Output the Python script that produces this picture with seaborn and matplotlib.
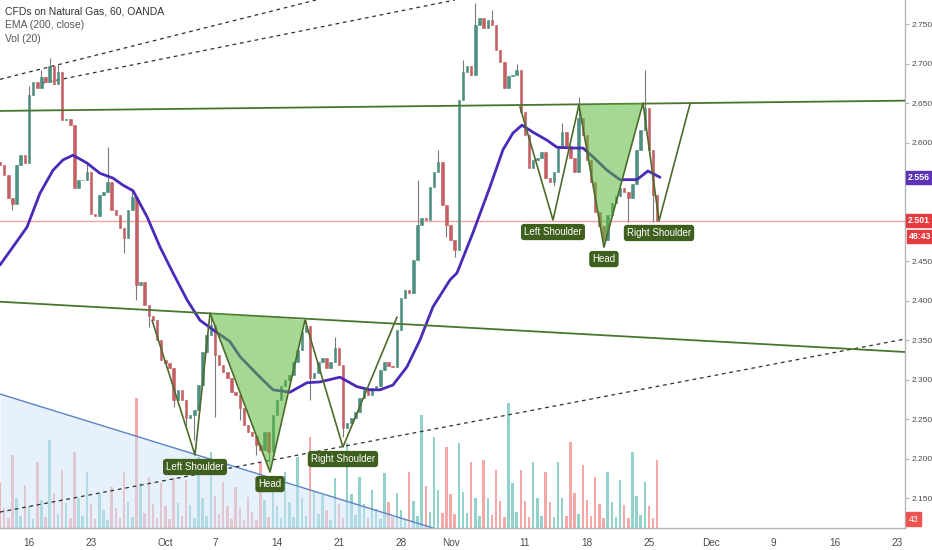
import numpy as np
import matplotlib
matplotlib.use("Agg")
import matplotlib.pyplot as plt
import seaborn as sns

sns.set_theme(style="white")
plt.rcParams['font.family'] = ['Liberation Sans', 'DejaVu Sans']

# ---------------- data ----------------
# time axis = trading-day index (weekends skipped), 0 = Mon 16 Sep, 3 candles per day
t_start = -7 / 3
per_day = 3
first_open = 2.575
close = [
    2.571, 2.559, 2.530, 2.522, 2.571, 2.584, 2.574, 2.660, 2.677, 2.669,
    2.683, 2.677, 2.697, 2.674, 2.689, 2.628, 2.630, 2.622, 2.542, 2.552,
    2.552, 2.563, 2.510, 2.507, 2.534, 2.537, 2.550, 2.515, 2.508, 2.492,
    2.479, 2.515, 2.531, 2.420, 2.423, 2.394, 2.380, 2.375, 2.350, 2.325,
    2.321, 2.315, 2.274, 2.287, 2.274, 2.251, 2.255, 2.262, 2.293, 2.335,
    2.356, 2.369, 2.331, 2.318, 2.309, 2.302, 2.284, 2.280, 2.264, 2.242,
    2.233, 2.228, 2.217, 2.211, 2.234, 2.208, 2.255, 2.274, 2.292, 2.299,
    2.306, 2.322, 2.337, 2.360, 2.368, 2.302, 2.308, 2.322, 2.327, 2.315,
    2.322, 2.340, 2.318, 2.239, 2.245, 2.251, 2.259, 2.277, 2.287, 2.280,
    2.289, 2.292, 2.312, 2.322, 2.317, 2.316, 2.363, 2.403, 2.413, 2.410,
    2.451, 2.496, 2.504, 2.502, 2.544, 2.563, 2.575, 2.521, 2.496, 2.477,
    2.464, 2.654, 2.689, 2.697, 2.686, 2.749, 2.758, 2.745, 2.755, 2.749,
    2.717, 2.702, 2.669, 2.684, 2.686, 2.692, 2.639, 2.610, 2.568, 2.578,
    2.580, 2.588, 2.555, 2.550, 2.563, 2.593, 2.613, 2.596, 2.580, 2.563,
    2.631, 2.610, 2.578, 2.550, 2.512, 2.494, 2.477, 2.508, 2.523, 2.532,
    2.542, 2.538, 2.530, 2.547, 2.591, 2.616, 2.644, 2.591, 2.534, 2.501,
]
wick_high = {7: 2.672, 10: 2.692, 12: 2.707, 14: 2.700, 21: 2.575, 26: 2.594,
             32: 2.540, 51: 2.379, 74: 2.375, 81: 2.354, 101: 2.553, 106: 2.591,
             112: 2.705, 115: 2.777, 119: 2.768, 125: 2.700, 136: 2.625,
             140: 2.657, 156: 2.692}
wick_low = {3: 2.515, 30: 2.460, 33: 2.401, 36: 2.366, 42: 2.265, 45: 2.243,
            47: 2.223, 52: 2.253, 58: 2.249, 62: 2.204, 65: 2.196, 75: 2.274,
            83: 2.227, 108: 2.481, 110: 2.455, 134: 2.545, 146: 2.468,
            152: 2.499, 158: 2.500}
volume = [46, 20, 10, 73, 30, 12, 43, 22, 9, 66, 28, 11, 88, 35, 14, 58, 25, 10,
          76, 30, 12, 56, 24, 9, 35, 18, 8, 41, 20, 10, 56, 26, 11, 130, 45, 15,
          51, 24, 10, 45, 22, 9, 50, 25, 12, 48, 23, 10, 71, 30, 12, 76, 32, 14,
          46, 22, 9, 41, 20, 8, 31, 16, 8, 65, 28, 11, 45, 22, 10, 56, 26, 11,
          71, 30, 12, 91, 36, 14, 33, 18, 8, 50, 24, 10, 85, 34, 13, 51, 24, 10,
          38, 19, 9, 55, 26, 11, 35, 18, 9, 56, 27, 12, 113, 42, 16, 91, 38, 15,
          81, 34, 14, 85, 36, 15, 66, 30, 12, 68, 30, 13, 58, 27, 11, 125, 45, 16,
          58, 27, 11, 66, 30, 12, 56, 26, 11, 66, 30, 12, 86, 35, 14, 63, 28, 12,
          51, 24, 10, 56, 26, 11, 48, 23, 10, 76, 32, 13, 46, 22, 10, 68]

ema_t = [-2.34, -1.29, -0.16, 0.89, 1.94, 2.74, 3.55, 4.68, 5.73, 6.77, 7.58, 8.39,
         9.52, 10.56, 11.61, 12.74, 13.79, 14.84, 16.21, 17.02, 18.63, 19.68, 21.05,
         22.42, 23.47, 25.08, 26.45, 27.50, 28.31, 29.35, 30.48, 31.53, 32.58, 33.95,
         34.52, 35.81, 37.18, 38.23, 39.03, 39.76, 40.65, 41.77, 42.58, 43.87, 44.68,
         45.48, 46.61, 47.66, 49.03, 49.92, 50.89]
ema_v = [2.445, 2.468, 2.493, 2.536, 2.565, 2.578, 2.584, 2.574, 2.561, 2.555, 2.546,
         2.539, 2.506, 2.468, 2.435, 2.401, 2.375, 2.363, 2.348, 2.329, 2.303, 2.287,
         2.284, 2.296, 2.297, 2.303, 2.291, 2.287, 2.287, 2.293, 2.316, 2.350, 2.392,
         2.426, 2.435, 2.486, 2.544, 2.591, 2.612, 2.622, 2.613, 2.603, 2.594, 2.593,
         2.593, 2.582, 2.565, 2.553, 2.553, 2.564, 2.556]

tick_pos = [0, 5, 11, 15, 20, 25, 30, 34, 40, 45, 50, 55, 60, 65, 70]
tick_lab = ['16', '23', 'Oct', '7', '14', '21', '28', 'Nov', '11', '18', '25',
            'Dec', '9', '16', '23']
price_ticks = [2.15, 2.20, 2.25, 2.30, 2.35, 2.40, 2.45, 2.50, 2.55, 2.60, 2.65, 2.70, 2.75]
price_labels = ['2.150', '2.200', '2.250', '2.300', '2.350', '2.400', '2.450', '', '',
                '2.600', '2.650', '2.700', '2.750']  # 2.500 / 2.550 hidden behind price boxes

# drawings (trading-day index, price)
neck_top_t, neck_top_p = [-2.34, 70.65], [2.640, 2.653]
neck_low_t, neck_low_p = [-2.34, 70.65], [2.3985, 2.3349]
dash1_t, dash1_p = [-2.34, 23.15], [2.680, 2.7804]
dash2_t, dash2_p = [1.0, 34.35], [2.675, 2.7804]
dash3_t, dash3_p = [-2.34, 70.65], [2.1323, 2.3513]
blue_t, blue_p = [-2.34, 32.58], [2.2817, 2.1121]
hs1_t = [9.92, 13.39, 14.60, 19.44, 22.26, 25.32, 29.68]
hs1_p = [2.3753, 2.2045, 2.3842, 2.1829, 2.3753, 2.2146, 2.3791]
hs2_t = [39.60, 42.26, 44.35, 46.37, 49.52, 50.81, 53.31]
hs2_p = [2.6450, 2.5019, 2.6475, 2.4677, 2.6500, 2.5007, 2.6488]
last_price = 2.501
ema_last = 2.556

# ---------------- figure ----------------
fig = plt.figure(figsize=(9.32, 5.5), dpi=100)
fig.patch.set_facecolor('white')
ax = fig.add_axes([0, 22 / 550, 905 / 932, 528 / 550])
ax2 = ax.twinx()
ax.set_zorder(ax2.get_zorder() + 1)
ax.patch.set_visible(False)

n = len(close)
t = t_start + np.arange(n) / per_day
c = np.array(close)
o = np.concatenate([[first_open], c[:-1]])
up = c >= o
hi = np.maximum(o, c)
lo = np.minimum(o, c)
for k, v in wick_high.items():
    hi[k] = max(hi[k], v)
for k, v in wick_low.items():
    lo[k] = min(lo[k], v)

UP, DN = '#4d8f80', '#c65f63'
cols = np.where(up, UP, DN)

# volume (behind)
ax2.bar(t, volume, width=0.2, color=np.where(up, '#26a69a', '#ef5350'), alpha=0.5, linewidth=0)
ax2.set_ylim(0, 528)
ax2.set_yticks([])
for s in ax2.spines.values():
    s.set_visible(False)

# blue channel fill
ax.fill_between(blue_t, blue_p, 2.1121, color='#cfe4fb', alpha=0.5, linewidth=0, zorder=0.5)
ax.plot(blue_t, blue_p, color='#5b84c4', lw=1.0, zorder=1)

# lines
ax.axhline(last_price, color='#f4a3a3', lw=1.0, zorder=1)
for tt, pp in [(dash1_t, dash1_p), (dash2_t, dash2_p), (dash3_t, dash3_p)]:
    ax.plot(tt, pp, color='#2f2f2f', lw=0.9, dashes=(3, 3), zorder=1.5)

# candles
ax.vlines(t, lo, hi, color='#7a7a7a', lw=0.8, zorder=2)
ax.bar(t, c - o, bottom=o, width=0.2, color=cols, edgecolor=cols, linewidth=0.4, zorder=2.1)

# EMA
sns.lineplot(x=ema_t, y=ema_v, sort=False, color='#4a2ab8', lw=2.0, ax=ax, zorder=3)

# necklines
GREEN = '#4a7530'
ax.plot(neck_top_t, neck_top_p, color=GREEN, lw=1.3, zorder=3.2)
ax.plot(neck_low_t, neck_low_p, color=GREEN, lw=1.3, zorder=3.2)

# head & shoulders patterns
for pt, pp in [(hs1_t, hs1_p), (hs2_t, hs2_p)]:
    ax.fill(pt[2:5], pp[2:5], color='#5cb83a', alpha=0.55, linewidth=0, zorder=3.3)
    ax.plot(pt, pp, color='#4d6b2a', lw=1.2, zorder=3.4)
    for idx, lab in [(1, 'Left Shoulder'), (3, 'Head'), (5, 'Right Shoulder')]:
        ax.annotate(lab, xy=(pt[idx], pp[idx]), xytext=(0, -12), textcoords='offset pixels',
                    ha='center', va='center', fontsize=7, color='white', zorder=5,
                    bbox=dict(boxstyle='round,pad=0.25', fc='#3e5f1d', ec='#3e5f1d'))

# axes
ax.set_xlim(-2.339, 70.65)
ax.set_ylim(2.1121, 2.7804)
ax.yaxis.tick_right()
ax.set_yticks(price_ticks, price_labels)
ax.set_xticks(tick_pos, tick_lab)
ax.tick_params(axis='y', labelsize=6.0, labelcolor='#4a4a4a', color='#b2b5be',
               length=3, width=0.8, direction='out', pad=1.5)
ax.tick_params(axis='x', labelsize=7.2, labelcolor='#4a4a4a', color='#b2b5be',
               length=3, width=0.8, direction='out', pad=4)
for s in ['top', 'left']:
    ax.spines[s].set_visible(False)
for s in ['right', 'bottom']:
    ax.spines[s].set_color('#b2b5be')
    ax.spines[s].set_linewidth(1.0)
ax.grid(False)
ax.set_xlabel('')
ax.set_ylabel('')

# price labels on the right axis
ytr = ax.get_yaxis_transform()
box_kw = dict(ha='left', va='center', fontsize=6.3, color='white', fontweight='bold', zorder=10)
ax.text(1.003, ema_last, f'{ema_last:.3f}', transform=ytr, clip_on=False,
        bbox=dict(boxstyle='square,pad=0.25', fc='#5b32b8', ec='#5b32b8'), **box_kw)
ax.text(1.003, last_price, f'{last_price:.3f}', transform=ytr, clip_on=False,
        bbox=dict(boxstyle='square,pad=0.25', fc='#e53b3f', ec='#e53b3f'), **box_kw)
ax.annotate('48:43', xy=(1.003, last_price), xycoords=ytr, xytext=(1, -16),
            textcoords='offset pixels', annotation_clip=False,
            bbox=dict(boxstyle='square,pad=0.25', fc='#e53b3f', ec='#e53b3f'), **box_kw)
ax.text(1.004, 0.017, '43', transform=ax.transAxes, ha='left', va='center', fontsize=6.3,
        color='white', clip_on=False, zorder=10,
        bbox=dict(boxstyle='square,pad=0.3', fc='#ef5350', ec='#ef5350'))

# header texts
fig.text(5 / 932, 1 - 11 / 550, 'CFDs on Natural Gas, 60, OANDA', fontsize=7.5, color='#333333',
         ha='left', va='center')
fig.text(5 / 932, 1 - 25 / 550, 'EMA (200, close)', fontsize=7.5, color='#555555', ha='left', va='center')
fig.text(5 / 932, 1 - 39 / 550, 'Vol (20)', fontsize=7.5, color='#555555', ha='left', va='center')

fig.savefig('out.png', dpi=100, facecolor='white')
